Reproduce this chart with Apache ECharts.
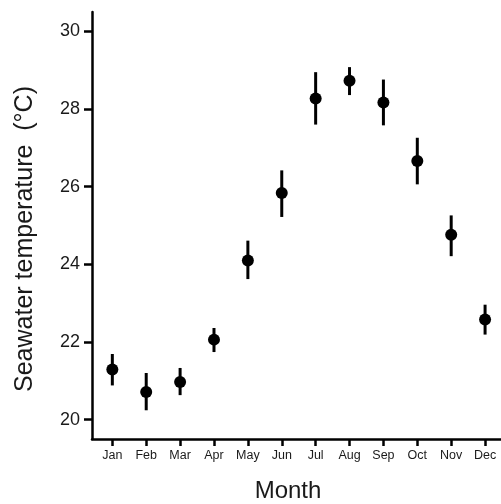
<!DOCTYPE html>
<html>
<head>
<meta charset="utf-8">
<script src="https://cdn.jsdelivr.net/npm/echarts@6/dist/echarts.min.js"></script>
<style>
html,body{margin:0;padding:0;background:#fff;}
#main{width:501px;height:504px;}
</style>
</head>
<body>
<div id="main"></div>
<script>
const months = ['Jan','Feb','Mar','Apr','May','Jun','Jul','Aug','Sep','Oct','Nov','Dec'];
const meanTemp = [21.29, 20.71, 20.97, 22.06, 24.10, 25.84, 28.27, 28.73, 28.17, 26.66, 24.76, 22.58];
const lowerTemp = [20.88, 20.24, 20.63, 21.74, 23.62, 25.22, 27.60, 28.36, 27.58, 26.06, 24.21, 22.19];
const upperTemp = [21.69, 21.20, 21.33, 22.36, 24.61, 26.42, 28.95, 29.08, 28.76, 27.26, 25.26, 22.96];
const yTicks = [20, 22, 24, 26, 28, 30];
const xTicks = months.map((m, i) => i + 1);

const font = 'Liberation Sans, Arial, Helvetica, sans-serif';
const chart = echarts.init(document.getElementById('main'), null, {renderer: 'canvas'});
chart.setOption({
  animation: false,
  backgroundColor: '#fff',
  grid: {left: 92, right: 0, top: 12, bottom: 65, containLabel: false},
  xAxis: {
    type: 'value', min: 0.4, max: 12.47,
    axisLine: {show: true, lineStyle: {color: '#000', width: 2.5}},
    axisTick: {show: true, length: 7, lineStyle: {color: '#000', width: 2.5}, customValues: xTicks},
    axisLabel: {customValues: xTicks, margin: 10, fontSize: 12.5, fontFamily: font, color: '#1a1a1a',
      formatter: v => months[Math.round(v) - 1]},
    splitLine: {show: false}
  },
  yAxis: {
    type: 'value', min: 19.5, max: 30.5,
    axisLine: {show: true, lineStyle: {color: '#000', width: 2.5}},
    axisTick: {show: true, length: 8, lineStyle: {color: '#000', width: 2.5}, customValues: yTicks},
    axisLabel: {customValues: yTicks, margin: 12, fontSize: 18, fontFamily: font, color: '#1a1a1a'},
    splitLine: {show: false}
  },
  graphic: [
    {type: 'text', x: 25, y: 239, rotation: Math.PI / 2,
      style: {text: 'Seawater temperature  (°C)', font: '25px ' + font, fill: '#1a1a1a', textAlign: 'center', textVerticalAlign: 'middle'}},
    {type: 'text', x: 288, y: 491,
      style: {text: 'Month', font: '24px ' + font, fill: '#1a1a1a', textAlign: 'center', textVerticalAlign: 'middle'}}
  ],
  series: [
    {
      type: 'custom',
      data: xTicks.map((x, i) => [x, lowerTemp[i], upperTemp[i]]),
      renderItem: (params, api) => {
        const p1 = api.coord([api.value(0), api.value(1)]);
        const p2 = api.coord([api.value(0), api.value(2)]);
        return {type: 'line', shape: {x1: p1[0], y1: p1[1], x2: p2[0], y2: p2[1]},
          style: {stroke: '#000', lineWidth: 3}};
      },
      z: 2
    },
    {
      type: 'scatter',
      data: xTicks.map((x, i) => [x, meanTemp[i]]),
      symbol: 'circle', symbolSize: 12,
      itemStyle: {color: '#000', opacity: 1},
      z: 3
    }
  ]
});
</script>
</body>
</html>
